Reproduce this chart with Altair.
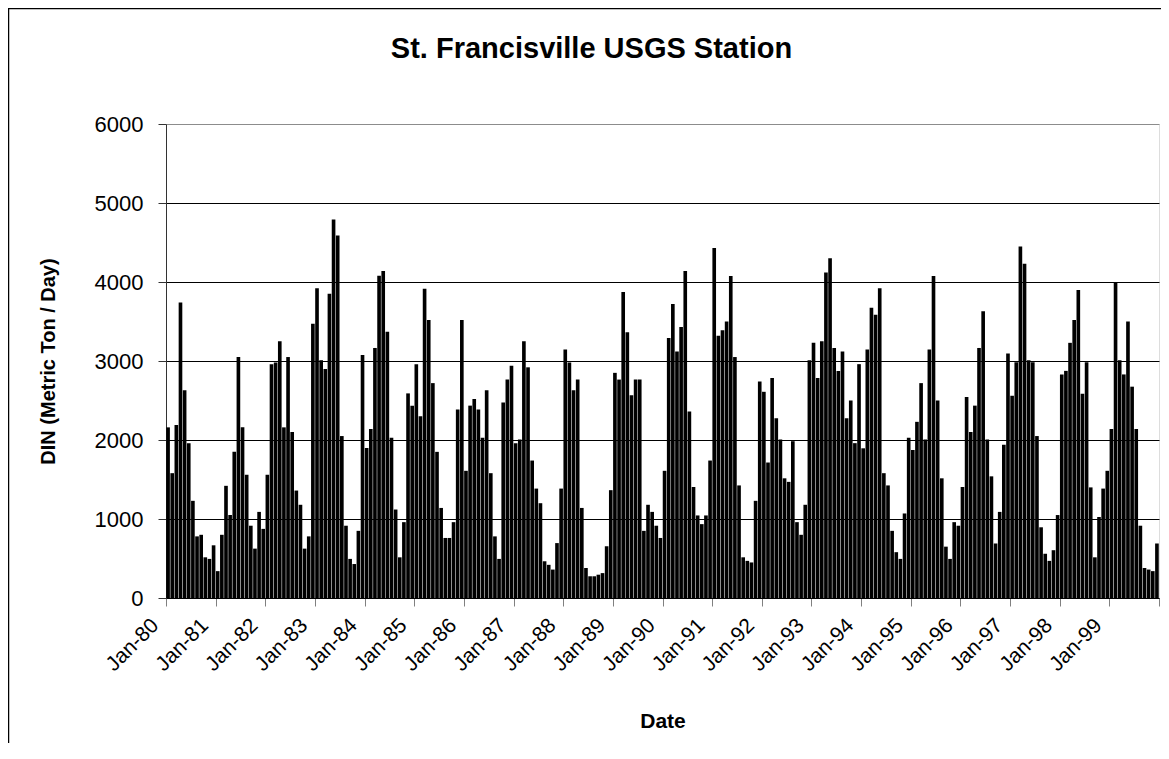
import altair as alt
import pandas as pd

# Monthly DIN flux (metric ton / day), Jan-1980 .. Dec-1999
years = list(range(1980, 2000))
din = [
    2160, 1580, 2190, 3740, 2630, 1960, 1230, 780, 800, 515, 495, 667,      # 1980
    340, 800, 1420, 1050, 1850, 3050, 2160, 1560, 915, 625, 1090, 875,      # 1981
    1560, 2960, 2980, 3250, 2160, 3050, 2100, 1360, 1180, 625, 780, 3470,   # 1982
    3920, 3010, 2900, 3850, 4790, 4590, 2050, 915, 495, 430, 850, 3075,     # 1983
    1900, 2140, 3165, 4080, 4140, 3370, 2030, 1120, 515, 960, 2590, 2435,   # 1984
    2960, 2300, 3915, 3520, 2720, 1850, 1140, 760, 760, 960, 2385, 3520,    # 1985
    1610, 2435, 2520, 2385, 2030, 2630, 1580, 780, 495, 2475, 2765, 2940,   # 1986
    1960, 2005, 3250, 2920, 1740, 1385, 1200, 465, 420, 360, 695, 1385,     # 1987
    3145, 2980, 2630, 2765, 1140, 380, 275, 275, 295, 315, 655, 1365,       # 1988
    2850, 2765, 3875, 3365, 2565, 2765, 2765, 850, 1180, 1090, 915, 760,    # 1989
    1610, 3290, 3720, 3120, 3430, 4140, 2360, 1405, 1045, 935, 1045, 1740,  # 1990
    4430, 3320, 3390, 3500, 4075, 3050, 1425, 515, 470, 450, 1230, 2740,    # 1991
    2610, 1715, 2785, 2275, 2005, 1515, 1470, 1985, 960, 800, 1180, 3010,   # 1992
    3230, 2785, 3250, 4120, 4300, 3165, 2875, 3120, 2275, 2500, 1960, 2960, # 1993
    1895, 3145, 3675, 3585, 3920, 1580, 1425, 850, 580, 495, 1070, 2030,    # 1994
    1875, 2230, 2720, 2005, 3145, 4075, 2500, 1515, 650, 495, 960, 915,     # 1995
    1405, 2545, 2100, 2435, 3165, 3630, 2005, 1540, 690, 1090, 1940, 3095,  # 1996
    2560, 2985, 4450, 4230, 3010, 2985, 2050, 895, 560, 470, 605, 1050,     # 1997
    2830, 2875, 3230, 3520, 3900, 2585, 2985, 1400, 515, 1025, 1385, 1610,  # 1998
    2140, 3990, 3010, 2830, 3500, 2675, 2140, 915, 380, 360, 340, 690,      # 1999
]
month_names = ["Jan", "Feb", "Mar", "Apr", "May", "Jun",
               "Jul", "Aug", "Sep", "Oct", "Nov", "Dec"]
tick_labels = ["Jan-%02d" % (y % 100) for y in years]
y_ticks = [0, 1000, 2000, 3000, 4000, 5000, 6000]

rows = []
for i, v in enumerate(din):
    y = years[i // 12]
    rows.append({"idx": i, "month": "%s-%02d" % (month_names[i % 12], y % 100), "din": v})
df = pd.DataFrame(rows)

FONT = "Liberation Sans"
W, H = 993, 474

label_array = "[" + ",".join("'%s'" % t for t in tick_labels) + "]"

bars = alt.Chart(df).transform_calculate(
    x0="datum.idx + 0.06", x1="datum.idx + 0.94"
).mark_bar(color="#000000").encode(
    x=alt.X("x0:Q",
            scale=alt.Scale(domain=[0, 240], nice=False, zero=False),
            axis=alt.Axis(
                values=list(range(0, 241, 12)),
                labelExpr="datum.value < 240 ? " + label_array + "[datum.value / 12] : ''",
                labelAngle=315, labelAlign="right", labelBaseline="middle",
                labelOffset=-11, labelPadding=16, labelOverlap=False,
                labelFontSize=21, labelFont=FONT, labelColor="#000000",
                tickSize=8, tickColor="#808080", domainColor="#000000",
                grid=False, title="Date", titleFont=FONT, titleFontSize=21,
                titleFontWeight="bold", titleColor="#000000",
                titleY=129, titleBaseline="alphabetic")),
    x2="x1:Q",
    y=alt.Y("din:Q",
            scale=alt.Scale(domain=[0, 6000], nice=False),
            axis=alt.Axis(
                values=y_ticks, format="d",
                labelFontSize=22, labelFont=FONT, labelColor="#000000",
                labelPadding=15, tickSize=8, tickColor="#333333",
                domainColor="#333333",
                grid=True, gridWidth=1,
                gridColor={"condition": {"test": "datum.value === 6000", "value": "#8c8c8c"},
                           "value": "#000000"},
                title="DIN (Metric Ton / Day)", titleFont=FONT, titleFontSize=20,
                titleFontWeight="bold", titleColor="#000000",
                titleAngle=270, titleX=-118, titleY=237,
                titleAlign="center", titleBaseline="middle")),
    y2=alt.datum(0),
    tooltip=["month:N", "din:Q"],
)

frame = alt.Chart(alt.Data(values=[{"f": 1}])).mark_rect(
    fillOpacity=0, stroke="#000000", strokeWidth=1.5
).encode(
    x=alt.value(-157.5), x2=alt.value(1200),
    y=alt.value(-115.5), y2=alt.value(900),
)

chart = alt.layer(bars, frame).properties(
    width=W, height=H,
    title=alt.TitleParams("St. Francisville USGS Station", font=FONT, fontSize=29,
                          fontWeight="bold", color="#000000", anchor="middle",
                          dx=-71, offset=0, dy=79, baseline="alphabetic"),
    autosize=alt.AutoSizeParams(type="none"),
    padding={"left": 158, "top": 116, "right": 2, "bottom": 145},
).configure_view(stroke="#808080", strokeWidth=1).configure(background="#ffffff")

chart.save("out.html", embed_options={"renderer": "svg", "actions": False})
